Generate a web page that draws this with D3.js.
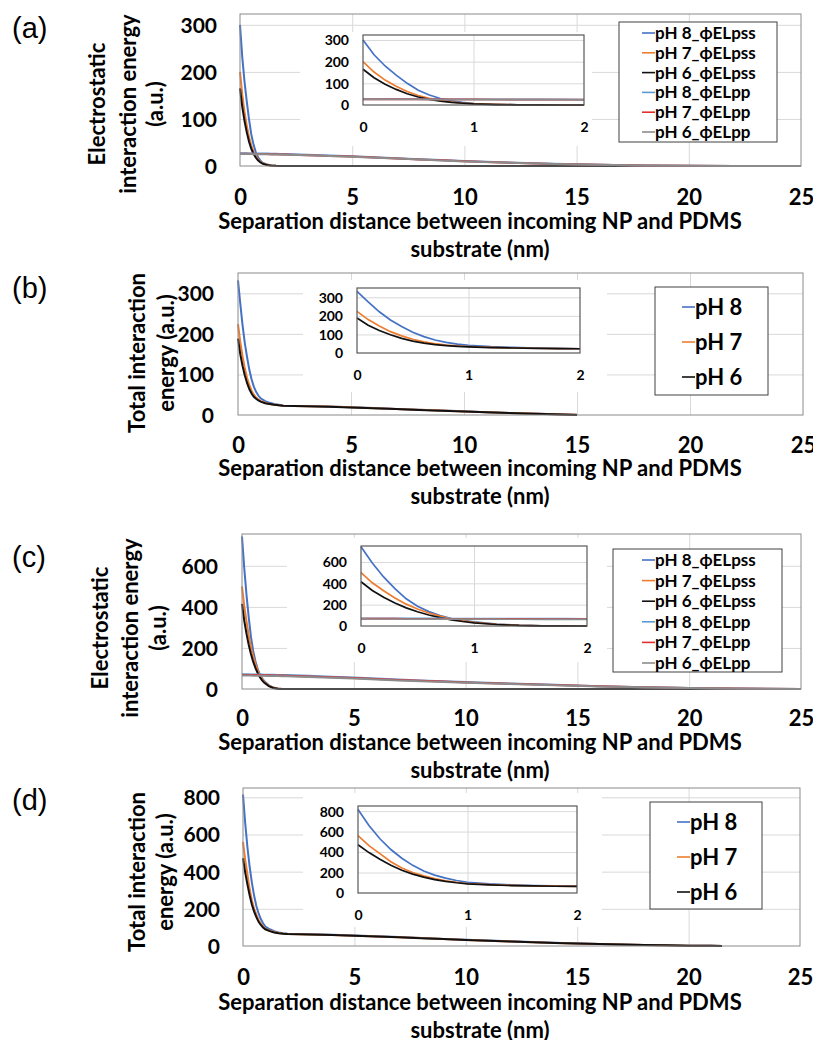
<!DOCTYPE html>
<html lang="en">
<head>
<meta charset="utf-8">
<title>Interaction energy vs separation distance</title>
<script src="https://cdn.jsdelivr.net/npm/d3@7"></script>
<style>
  body { margin: 0; background: #fff; }
  svg text { font-family: Lato, "Open Sans", sans-serif; font-weight: 700; fill: #000; }
  svg text.panelLabel { font-family: "Liberation Sans", Arial, sans-serif; font-weight: 400; }
</style>
</head>
<body>
<div id="chart"></div>
<script>

// tick values
var mainXTicks = [0, 5, 10, 15, 20, 25];
var insetXTicks = [0, 1, 2];
var yTicksAB = [0, 100, 200, 300];
var yTicksC = [0, 200, 400, 600];
var yTicksD = [0, 200, 400, 600, 800];

// legend labels
var legendPsPp = ["pH 8_\u03d5ELpss", "pH 7_\u03d5ELpss", "pH 6_\u03d5ELpss", "pH 8_\u03d5ELpp", "pH 7_\u03d5ELpp", "pH 6_\u03d5ELpp"];
var legendTotal = ["pH 8", "pH 7", "pH 6"];
var colorsPsPp = ["#4472c4", "#ed7d31", "#111111", "#5b9bd5", "#e0302e", "#8c8c8c"];
var colorsTotal = ["#4472c4", "#ed7d31", "#111111"];

// (a) electrostatic, separation distance (nm)
var xA = [0,0.1,0.2,0.3,0.4,0.5,0.6,0.7,0.8,0.9,1,1.2,1.4,1.6,1.8,2,3,4,5,6,7,8,9,10,12,14,16,18,20,22,25];
var aPss8 = [300,232,180,138,100,68,46,30,19,12,7,3,1.2,0.5,0.2,0,0,0,0,0,0,0,0,0,0,0,0,0,0,0,0];
var aPss7 = [200,152,115,86,62,44,31,21,14,9,6,2.5,1,0.4,0.1,0,0,0,0,0,0,0,0,0,0,0,0,0,0,0,0];
var aPss6 = [165,126,96,72,52,37,26,18,12,8,5,2,0.8,0.3,0.1,0,0,0,0,0,0,0,0,0,0,0,0,0,0,0,0];
var aPp8 = [27,27,26.9,26.9,26.8,26.8,26.7,26.7,26.6,26.6,26.5,26.3,26.1,25.9,25.7,25.4,24,22.4,20.8,18.8,16.7,14.6,12.5,10.4,7.3,4.7,2.6,1.3,0.5,0.2,0];
var aPp7 = [26,26,25.9,25.9,25.8,25.8,25.7,25.7,25.6,25.6,25.5,25.3,25.1,24.9,24.7,24.5,23,21.5,20,18,16,14,12,10,7,4.5,2.5,1.2,0.5,0.2,0];
var aPp6 = [25.5,25.5,25.4,25.4,25.3,25.3,25.2,25.2,25.1,25.1,25,24.8,24.6,24.4,24.2,24,22.6,21.1,19.6,17.6,15.7,13.7,11.8,9.8,6.9,4.4,2.4,1.2,0.5,0.2,0];

// (b) total
var xB = [0,0.1,0.2,0.3,0.4,0.5,0.6,0.7,0.8,0.9,1,1.2,1.4,1.6,1.8,2,3,4,5,6,7,8,9,10,11,12,13,14,15];
var bTot8 = [332,275,222,178,143,112,88,70,57,48,41,34,30,27,25,23,22,21,19,17,15,13,11,9,7,5,3.5,2,0.5];
var bTot7 = [224,180,145,115,92,74,60,50,43,38,35,30,27,25.5,24,23,21.8,20.7,18.8,16.8,14.8,12.8,10.8,8.8,6.8,4.9,3.4,1.9,0.4];
var bTot6 = [188,150,121,98,79,64,53,45,40,36,33,29,27,25,24,22.8,21.6,20.5,18.6,16.6,14.6,12.6,10.6,8.6,6.6,4.8,3.3,1.8,0.3];

// (c) electrostatic
var xC = [0,0.1,0.2,0.3,0.4,0.5,0.6,0.7,0.8,0.9,1,1.2,1.4,1.6,1.8,2,3,4,5,6,7,8,9,10,12,14,16,18,20,22,25];
var cPss8 = [743,590,460,350,255,185,135,98,70,52,38,18,7,2,0.5,0,0,0,0,0,0,0,0,0,0,0,0,0,0,0,0];
var cPss7 = [500,405,330,262,205,160,122,92,66,48,34,16,6,2,0.5,0,0,0,0,0,0,0,0,0,0,0,0,0,0,0,0];
var cPss6 = [415,333,270,215,170,133,103,78,57,42,30,14,5,1.5,0.4,0,0,0,0,0,0,0,0,0,0,0,0,0,0,0,0];
var cPp8 = [72,71.8,71.6,71.4,71.2,71,70.8,70.6,70.4,70.2,70,69.6,69.2,68.8,68.4,68,64,60,55.5,51,46.5,42,38,34,27,20.5,14,9,5,2.3,0.3];
var cPp7 = [69,68.8,68.6,68.4,68.2,68,67.8,67.6,67.4,67.2,67,66.6,66.2,65.8,65.4,65,61,57,53,48.5,44,40,36,32,25.5,19.3,13.2,8.4,4.6,2.1,0.3];
var cPp6 = [66,65.8,65.6,65.4,65.2,65,64.8,64.6,64.4,64.2,64,63.6,63.2,62.8,62.4,62,58.2,54.4,50.6,46.3,42,38,34.2,30.4,24.2,18.3,12.5,8,4.4,2,0.3];

// (d) total
var xD = [0,0.1,0.2,0.3,0.4,0.5,0.6,0.7,0.8,0.9,1,1.2,1.4,1.6,1.8,2,3,4,5,6,7,8,9,10,11,12,13,14,15,16,17,18,19,20,21,21.5];
var dTot8 = [815,660,530,425,340,270,215,175,145,122,105,90,80,73,69,66,63,60,56,52,48,43,38,33,29,25,21,17,14,11,8,6,4,2,1,0];
var dTot7 = [560,462,385,305,245,200,167,140,120,105,93,82,75,70,67,65,62.3,59.3,55.4,51.4,47.4,42.5,37.6,32.6,28.6,24.7,20.7,16.8,13.8,10.8,7.9,5.9,3.9,1.9,0.9,0];
var dTot6 = [472,395,330,272,222,185,155,130,113,100,90,80,73,69,66,64,61.5,58.6,54.7,50.8,46.8,42,37.1,32.2,28.3,24.4,20.5,16.6,13.6,10.6,7.8,5.8,3.8,1.9,0.9,0];

var xTitle = ["Separation distance between incoming NP and PDMS", "substrate (nm)"];

//Width and height
var w = 813;
var h = 1040;

var svg = d3.select("#chart")
            .append("svg")
            .attr("width", w)
            .attr("height", h);

svg.append("rect").attr("width", w).attr("height", h).attr("fill", "#fff");

var panels = [
  { id: "a", label: "(a)", labelY: 38,
    xs: xA, values: [aPss8, aPss7, aPss6, aPp8, aPp7, aPp6], names: legendPsPp, colors: colorsPsPp,
    main: { x0: 240, x1: 801, y0: 14, y1: 166, ymax: 323, yticks: yTicksAB, labelX: 217 },
    inset: { x0: 363, x1: 584, y0: 35, y1: 105, ymax: 323, yticks: yTicksAB },
    cover: [300, 32, 292, 114],
    legend: { x: 619, y: 22, w: 158, h: 120, first: 33, step: 19.8, lineX: 642, fs: 17 },
    yTitle: { lines: ["Electrostatic", "interaction energy", "(a.u.)"], xs: [97, 128, 155], cy: 104 },
    tickY: 31, titleY: 221 },
  { id: "b", label: "(b)", labelY: 298,
    xs: xB, values: [bTot8, bTot7, bTot6], names: legendTotal, colors: colorsTotal,
    main: { x0: 238, x1: 803, y0: 273, y1: 415, ymax: 350, yticks: yTicksAB, labelX: 214 },
    inset: { x0: 357, x1: 580, y0: 288, y1: 353, ymax: 350, yticks: yTicksAB },
    cover: [303, 280, 304, 112],
    legend: { x: 655, y: 287, w: 113, h: 108, first: 307, step: 35, lineX: 682, fs: 22 },
    yTitle: { lines: ["Total interaction", "energy (a.u.)"], xs: [137, 166], cy: 353 },
    tickY: 30, titleY: 468 },
  { id: "c", label: "(c)", labelY: 567,
    xs: xC, values: [cPss8, cPss7, cPss6, cPp8, cPp7, cPp6], names: legendPsPp, colors: colorsPsPp,
    main: { x0: 242, x1: 801, y0: 534, y1: 689, ymax: 755, yticks: yTicksC, labelX: 218 },
    inset: { x0: 361, x1: 587, y0: 546, y1: 626, ymax: 750, yticks: yTicksC },
    cover: [287, 538, 320, 124],
    legend: { x: 613, y: 549, w: 169, h: 123, first: 560, step: 20.6, lineX: 642, fs: 17 },
    yTitle: { lines: ["Electrostatic", "interaction energy", "(a.u.)"], xs: [100, 130, 158], cy: 628 },
    tickY: 29, titleY: 742 },
  { id: "d", label: "(d)", labelY: 810,
    xs: xD, values: [dTot8, dTot7, dTot6], names: legendTotal, colors: colorsTotal,
    main: { x0: 243, x1: 800, y0: 788, y1: 946, ymax: 850, yticks: yTicksD, labelX: 220 },
    inset: { x0: 358, x1: 577, y0: 806, y1: 893, ymax: 850, yticks: yTicksD },
    cover: [303, 793, 299, 134],
    legend: { x: 650, y: 802, w: 112, h: 107, first: 822, step: 35, lineX: 677, fs: 22 },
    yTitle: { lines: ["Total interaction", "energy (a.u.)"], xs: [137, 165], cy: 872 },
    tickY: 31, titleY: 1002 }
];

panels.forEach(drawPanel);

function drawPanel(p) {
  var g = svg.append("g").attr("class", "panel-" + p.id);
  var m = p.main, ins = p.inset;

  var x = d3.scaleLinear().domain([0, 25]).range([m.x0, m.x1]);
  var y = d3.scaleLinear().domain([0, m.ymax]).range([m.y1, m.y0]);
  var xi = d3.scaleLinear().domain([0, 2]).range([ins.x0, ins.x1]);
  var yi = d3.scaleLinear().domain([0, ins.ymax]).range([ins.y1, ins.y0]);

  var series = p.values.map(function(vals, i) {
    return { name: p.names[i], color: p.colors[i],
             pts: vals.map(function(v, j) { return [p.xs[j], v]; }) };
  });

  // main gridlines
  g.append("g")
   .attr("transform", "translate(0," + m.y1 + ")")
   .call(d3.axisBottom(x).tickValues(mainXTicks.slice(1, -1)).tickSize(-(m.y1 - m.y0)).tickFormat(""))
   .call(function(s) { s.select(".domain").remove(); })
   .selectAll("line").attr("stroke", "#d9d9d9");
  g.append("g")
   .attr("transform", "translate(" + m.x0 + ",0)")
   .call(d3.axisLeft(y).tickValues(m.yticks.slice(1)).tickSize(-(m.x1 - m.x0)).tickFormat(""))
   .call(function(s) { s.select(".domain").remove(); })
   .selectAll("line").attr("stroke", "#d9d9d9");

  // inset sits on a white chart area
  g.append("rect")
   .attr("x", p.cover[0]).attr("y", p.cover[1])
   .attr("width", p.cover[2]).attr("height", p.cover[3])
   .attr("fill", "#fff");

  // main lines
  var line = d3.line().x(function(d) { return x(d[0]); }).y(function(d) { return y(d[1]); });
  g.selectAll(".mainLine")
   .data(series)
   .enter()
   .append("path")
   .attr("class", "mainLine")
   .attr("d", function(d) { return line(d.pts); })
   .attr("fill", "none")
   .attr("stroke", function(d) { return d.color; })
   .attr("stroke-width", 2);

  g.append("rect")
   .attr("x", m.x0).attr("y", m.y0)
   .attr("width", m.x1 - m.x0).attr("height", m.y1 - m.y0)
   .attr("fill", "none").attr("stroke", "#8a8a8a").attr("stroke-width", 1);

  // main tick labels
  var xa = g.append("g")
   .attr("transform", "translate(0," + m.y1 + ")")
   .call(d3.axisBottom(x).tickValues(mainXTicks).tickSize(0));
  xa.select(".domain").remove();
  xa.selectAll("text").attr("y", p.tickY).attr("dy", "0.35em")
    .style("font-size", "22px").style("font-family", null);

  var ya = g.append("g")
   .attr("transform", "translate(" + m.labelX + ",0)")
   .call(d3.axisLeft(y).tickValues(m.yticks).tickSize(0));
  ya.select(".domain").remove();
  ya.selectAll("text").attr("x", 0).attr("dy", "0.35em")
    .style("font-size", "21px").style("font-family", null);

  // inset
  var ig = g.append("g");
  ig.append("g")
   .attr("transform", "translate(0," + ins.y1 + ")")
   .call(d3.axisBottom(xi).tickValues([1]).tickSize(-(ins.y1 - ins.y0)).tickFormat(""))
   .call(function(s) { s.select(".domain").remove(); })
   .selectAll("line").attr("stroke", "#d9d9d9");
  ig.append("g")
   .attr("transform", "translate(" + ins.x0 + ",0)")
   .call(d3.axisLeft(yi).tickValues(ins.yticks.slice(1)).tickSize(-(ins.x1 - ins.x0)).tickFormat(""))
   .call(function(s) { s.select(".domain").remove(); })
   .selectAll("line").attr("stroke", "#d9d9d9");

  var iline = d3.line().x(function(d) { return xi(d[0]); }).y(function(d) { return yi(d[1]); });
  ig.selectAll(".insetLine")
   .data(series)
   .enter()
   .append("path")
   .attr("class", "insetLine")
   .attr("d", function(d) { return iline(d.pts.filter(function(q) { return q[0] <= 2; })); })
   .attr("fill", "none")
   .attr("stroke", function(d) { return d.color; })
   .attr("stroke-width", 1.7);

  ig.append("rect")
   .attr("x", ins.x0).attr("y", ins.y0)
   .attr("width", ins.x1 - ins.x0).attr("height", ins.y1 - ins.y0)
   .attr("fill", "none").attr("stroke", "#595959").attr("stroke-width", 1.2);

  var ixa = ig.append("g")
   .attr("transform", "translate(0," + ins.y1 + ")")
   .call(d3.axisBottom(xi).tickValues(insetXTicks).tickFormat(d3.format("d")).tickSize(0));
  ixa.select(".domain").remove();
  ixa.selectAll("text").attr("y", 22).attr("dy", "0.35em")
     .style("font-size", "14px").style("font-family", null);

  var iya = ig.append("g")
   .attr("transform", "translate(" + (ins.x0 - 14) + ",0)")
   .call(d3.axisLeft(yi).tickValues(ins.yticks).tickSize(0));
  iya.select(".domain").remove();
  iya.selectAll("text").attr("x", 0).attr("dy", "0.35em")
     .style("font-size", "14px").style("font-family", null);

  // legend
  var L = p.legend;
  g.append("rect")
   .attr("x", L.x).attr("y", L.y).attr("width", L.w).attr("height", L.h)
   .attr("fill", "#fff").attr("stroke", "#404040").attr("stroke-width", 1);
  var rows = g.selectAll(".legRow")
   .data(series)
   .enter()
   .append("g")
   .attr("class", "legRow")
   .attr("transform", function(d, i) { return "translate(0," + (L.first + i * L.step) + ")"; });
  rows.append("line")
   .attr("x1", L.lineX).attr("x2", L.lineX + 13)
   .attr("stroke", function(d) { return d.color; })
   .attr("stroke-width", 1.6);
  rows.append("text")
   .attr("x", L.lineX + 13)
   .attr("dy", "0.35em")
   .attr("font-size", L.fs)
   .text(function(d) { return d.name; });

  // axis titles
  g.selectAll(".xTitle")
   .data(xTitle)
   .enter()
   .append("text")
   .attr("class", "xTitle")
   .attr("x", 480)
   .attr("y", function(d, i) { return p.titleY + i * 28; })
   .attr("dy", "0.35em")
   .attr("text-anchor", "middle")
   .attr("font-size", 22)
   .text(function(d) { return d; });

  g.selectAll(".yTitle")
   .data(p.yTitle.lines)
   .enter()
   .append("text")
   .attr("class", "yTitle")
   .attr("transform", function(d, i) { return "translate(" + p.yTitle.xs[i] + "," + p.yTitle.cy + ") rotate(-90)"; })
   .attr("dy", "0.35em")
   .attr("text-anchor", "middle")
   .attr("font-size", 22)
   .text(function(d) { return d; });

  g.append("text")
   .attr("class", "panelLabel")
   .attr("x", 12)
   .attr("y", p.labelY)
   .attr("font-size", 29)
   .text(p.label);
}

</script>
</body>
</html>
